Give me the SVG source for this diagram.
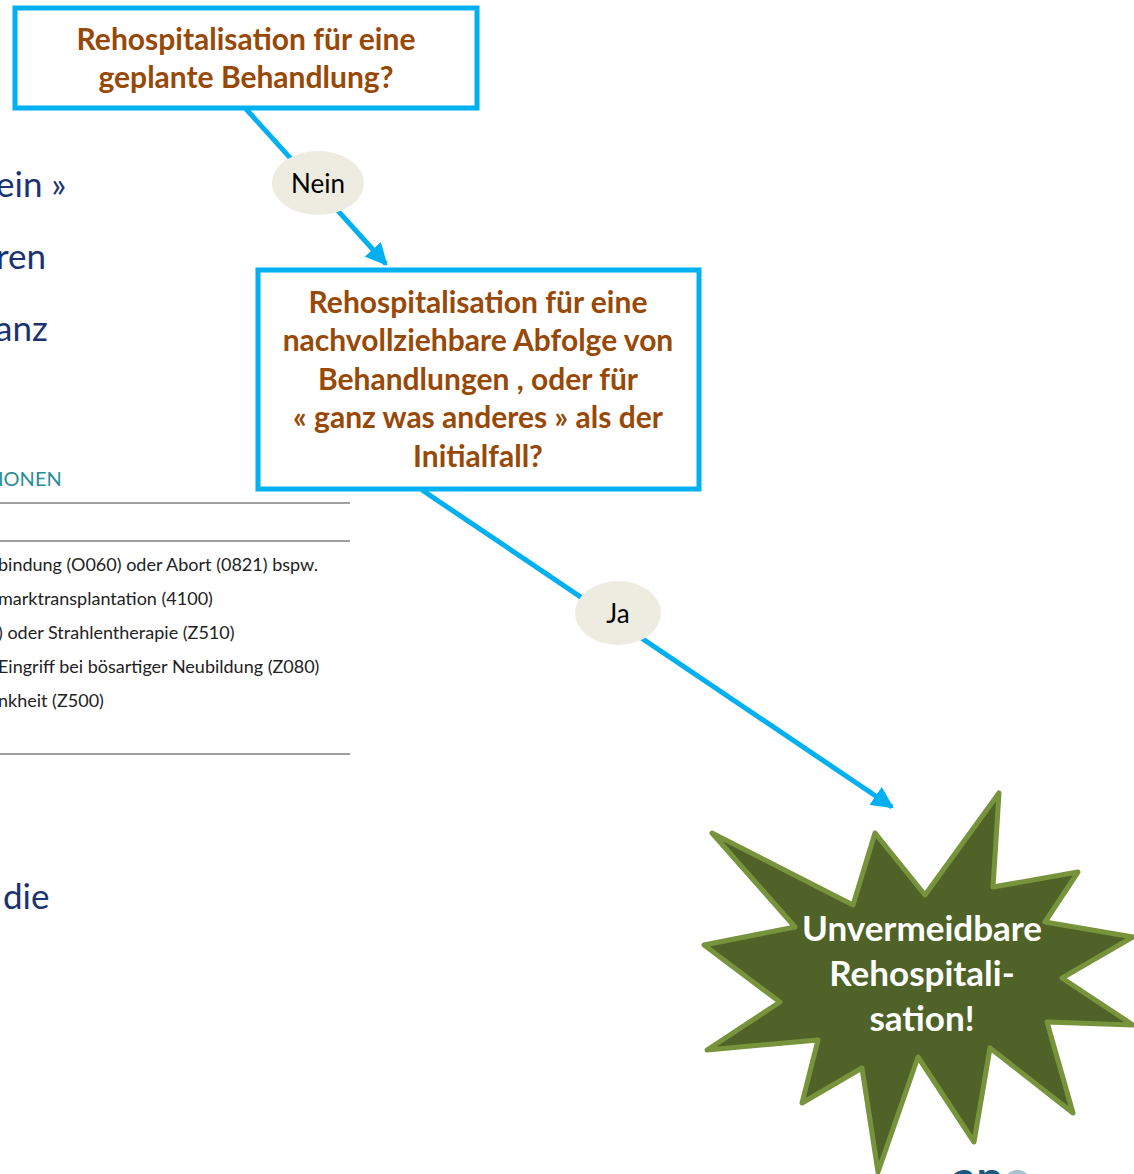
<svg xmlns="http://www.w3.org/2000/svg" width="1134" height="1174" viewBox="0 0 1134 1174">
  <style>
    .bg { font-family: Lato, "Open Sans", "Noto Sans", sans-serif; fill: #1b3470; font-size: 35px; }
    .tbl { font-family: Lato, "Open Sans", "Noto Sans", sans-serif; fill: #222; font-size: 18px; }
    .rule { stroke: #7f7f7f; stroke-width: 1.5; }
    .box { fill: #ffffff; stroke: #00b0f0; stroke-width: 5; }
    .q { font-family: Lato, "Open Sans", "Noto Sans", sans-serif; font-weight: bold; font-size: 30px; fill: #984807; text-anchor: middle; }
    .conn { stroke: #00b0f0; stroke-width: 5; fill: none; }
    .lbl { fill: #eeece1; }
    .lbltxt { font-family: Lato, "Open Sans", "Noto Sans", sans-serif; font-size: 26px; fill: #000; text-anchor: middle; }
    .star { fill: #4f6228; stroke: #77933c; stroke-width: 5; stroke-linejoin: round; }
    .startxt { font-family: Lato, "Open Sans", "Noto Sans", sans-serif; font-weight: bold; font-size: 35px; fill: #ffffff; text-anchor: middle; }
  </style>
  <defs>
    <marker id="arrow" viewBox="0 0 10 10" refX="9" refY="5" markerWidth="4.4" markerHeight="4.4" orient="auto" markerUnits="strokeWidth">
      <path d="M0,0 L10,5 L0,10 z" fill="#00b0f0"/>
    </marker>
  </defs>

  <!-- background slide text, partly hidden at the left edge -->
  <g id="background">
    <text class="bg" x="-4" y="197">ein »</text>
    <text class="bg" x="-4" y="269">ren</text>
    <text class="bg" x="-5" y="341">anz</text>
    <text x="-2" y="486" style="font-family: Lato, 'Open Sans', sans-serif; font-size: 20px; fill: #2a8c99;">IONEN</text>
    <line class="rule" x1="0" y1="503" x2="350" y2="503"/>
    <line class="rule" x1="0" y1="541" x2="350" y2="541"/>
    <text class="tbl" x="-2" y="571">bindung (O060) oder Abort (0821) bspw.</text>
    <text class="tbl" x="-2" y="605">marktransplantation (4100)</text>
    <text class="tbl" x="-2" y="639">) oder Strahlentherapie (Z510)</text>
    <text class="tbl" x="-2" y="673">Eingriff bei bösartiger Neubildung (Z080)</text>
    <text class="tbl" x="-2" y="707">nkheit (Z500)</text>
    <line class="rule" x1="0" y1="754" x2="350" y2="754"/>
    <text class="bg" x="3" y="909">die</text>
    <text x="952" y="1195" style="font-family: Lato, 'Open Sans', sans-serif; font-weight: bold; font-size: 48px;"><tspan fill="#1b5a7e">an</tspan><tspan fill="#a9c1cf">o</tspan></text>
  </g>

  <!-- connectors -->
  <g id="connectors">
    <line class="conn" x1="246" y1="109" x2="386" y2="264" marker-end="url(#arrow)"/>
    <line class="conn" x1="422" y1="490" x2="892" y2="807" marker-end="url(#arrow)"/>
    <g id="label-nein">
      <ellipse class="lbl" cx="318" cy="183" rx="46" ry="32"/>
      <text class="lbltxt" x="318" y="193">Nein</text>
    </g>
    <g id="label-ja">
      <ellipse class="lbl" cx="618" cy="613" rx="43" ry="32"/>
      <text class="lbltxt" x="618" y="623">Ja</text>
    </g>
  </g>

  <!-- question 1 -->
  <g id="q-geplant">
    <rect class="box" x="15" y="8" width="462" height="100"/>
    <text class="q" x="246" y="50">Rehospitalisation für eine</text>
    <text class="q" x="246" y="88">geplante Behandlung?</text>
  </g>

  <!-- question 2 -->
  <g id="q-abfolge">
    <rect class="box" x="258" y="270" width="441" height="219"/>
    <text class="q" x="478" y="313">Rehospitalisation für eine</text>
    <text class="q" x="478" y="351">nachvollziehbare Abfolge von</text>
    <text class="q" x="478" y="390">Behandlungen , oder für</text>
    <text class="q" x="478" y="428">« ganz was anderes » als der</text>
    <text class="q" x="478" y="467">Initialfall?</text>
  </g>

  <!-- outcome burst -->
  <g id="result">
    <polygon class="star" points="712,833 853,905 875,833 925,895 999,793 993,887 1078,872 1045,922 1133,937 1062,978 1133,1025 1047,1022 1073,1113 990,1048 974,1142 918,1057 878,1172 862,1068 802,1103 818,1040 707,1050 780,1002 704,945 795,927"/>
    <text class="startxt" x="922" y="941">Unvermeidbare</text>
    <text class="startxt" x="922" y="986">Rehospitali-</text>
    <text class="startxt" x="922" y="1031">sation!</text>
  </g>
</svg>
